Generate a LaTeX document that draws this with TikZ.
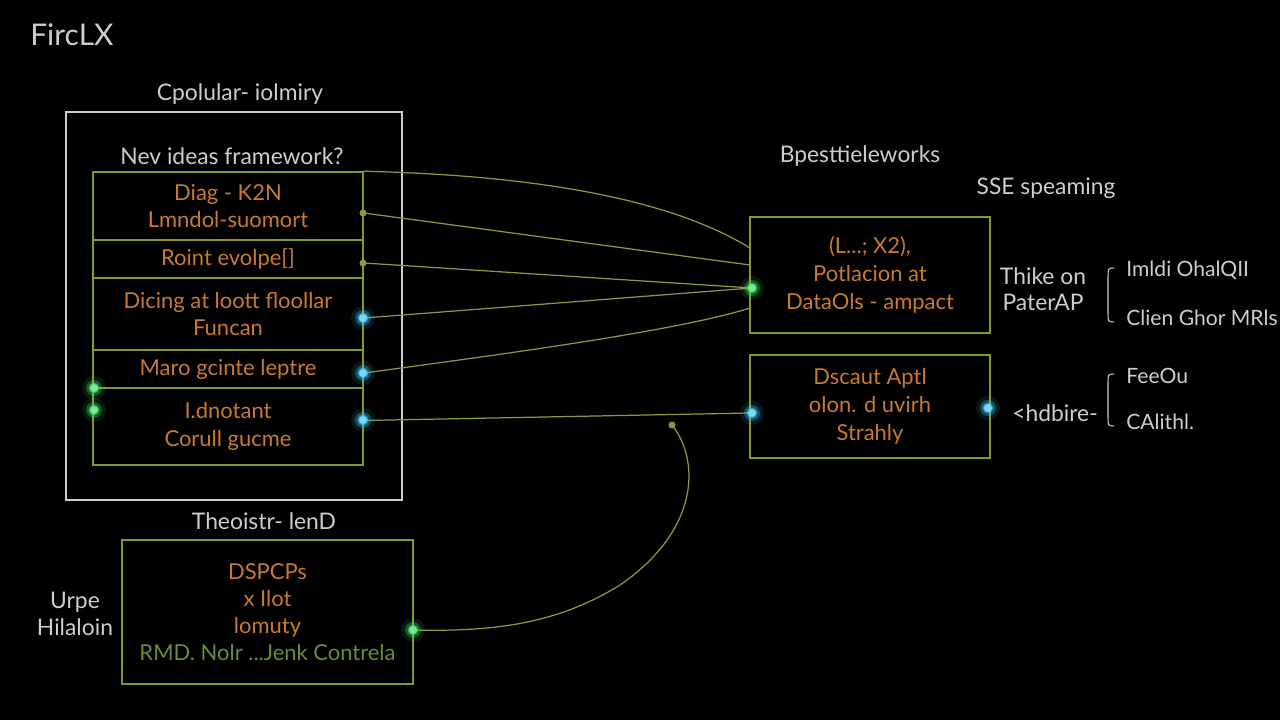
\documentclass[tikz,border=0pt]{standalone}
\usepackage{fontspec}
\setmainfont{Lato}
\usetikzlibrary{positioning,calc}
\definecolor{framegrey}{RGB}{205,205,205}
\definecolor{rowgreen}{RGB}{140,150,40}
\definecolor{wireolive}{RGB}{150,148,60}
\definecolor{labelorange}{RGB}{200,122,48}
\definecolor{dimgreen}{RGB}{105,140,55}
\definecolor{glowcyan}{RGB}{60,200,245}
\definecolor{glowgreen}{RGB}{60,225,100}
\newcommand{\glowdot}[2]{\fill[#1,opacity=0.12] #2 circle (12); \fill[#1,opacity=0.3] #2 circle (8); \fill[#1,opacity=0.6] #2 circle (5.5); \fill[#1!70!white] #2 circle (4);}
\newcommand{\tinydot}[1]{\fill[wireolive] #1 circle (3.5);}
\newcommand{\bracket}[2]{\draw[framegrey,line width=0.6pt] (1114,#1) .. controls (1108,#1) .. (1108,#1+10) -- (1108,#2-10) .. controls (1108,#2) .. (1114,#2);}

\begin{document}
\begin{tikzpicture}[x=0.02cm,y=-0.02cm,
  greylabel/.style={text=framegrey,font=\fontsize{13}{16}\selectfont,inner sep=0},
  rowbox/.style={draw=rowgreen,line width=0.9pt,minimum width=5.4cm,inner sep=0,align=center,
    text=labelorange,font=\fontsize{12.5}{15.5}\selectfont},
  wire/.style={wireolive,line width=0.7pt}]
\fill[black] (0,0) rectangle (1280,720);
\useasboundingbox (0,0) rectangle (1280,720);
% heading
\node[greylabel,anchor=west,font=\fontsize{17}{20}\selectfont] (title) at (30,35) {FircLX};
% left column
\node[greylabel] (outerlbl) at (240,94) {Cpolular- iolmiry};
\node[draw=framegrey,line width=0.7pt,minimum width=6.72cm,minimum height=7.76cm] (outer) at (234,306) {};
\node[greylabel] (stacklbl) at (232,156) {Nev ideas framework?};
\node[rowbox,minimum height=1.36cm] (r1) at (228,206) {Diag - K2N\\Lmndol-suomort};
\node[rowbox,minimum height=0.76cm] (r2) at (228,259) {Roint evolpe[]};
\node[rowbox,minimum height=1.44cm] (r3) at (228,314) {Dicing at loott floollar\\Funcan};
\node[rowbox,minimum height=0.76cm] (r4) at (228,369) {Maro gcinte leptre};
\node[rowbox,minimum height=1.54cm] (r5) at (228,426.5) {I.dnotant\\Corull gucme};
% right column
\node[greylabel] (rightlbl) at (860,156) {Bpesttieleworks};
\node[greylabel] (sselbl) at (1046,188) {SSE speaming};
\node[rowbox,minimum width=4.8cm,minimum height=2.32cm,font=\fontsize{12.5}{16}\selectfont] (b1) at (870,275) {(L...; X2),\\Potlacion at\\DataOls - ampact};
\node[rowbox,minimum width=4.8cm,minimum height=2.06cm,font=\fontsize{12.5}{16}\selectfont] (b2) at (870,406.5) {Dscaut Aptl\\olon. d uvirh\\Strahly};
\node[greylabel,align=center,font=\fontsize{13}{15}\selectfont] (thike) at (1043,289) {Thike on\\PaterAP};
\node[greylabel,anchor=west,font=\fontsize{12}{14}\selectfont] (imldi) at (1126,270) {Imldi OhalQII};
\node[greylabel,anchor=west,font=\fontsize{12}{14}\selectfont] (clien) at (1126,318) {Clien Ghor MRls};
\node[greylabel] (hdbire) at (1055,413) {<hdbire-};
\node[greylabel,anchor=west,font=\fontsize{12}{14}\selectfont] (feeou) at (1126,376) {FeeOu};
\node[greylabel,anchor=west,font=\fontsize{12}{14}\selectfont] (calithl) at (1126,422) {CAlithl.};
\bracket{268}{322}
\bracket{374}{426}
% bottom
\node[greylabel] (botlbl) at (264,521) {Theoistr- lenD};
\node[rowbox,minimum width=5.82cm,minimum height=2.88cm,font=\fontsize{12.5}{15.5}\selectfont] (bot) at (267.5,612) {DSPCPs\\x Ilot\\lomuty\\\textcolor{dimgreen}{RMD. Nolr ...Jenk Contrela}};
\node[greylabel,align=center,font=\fontsize{13}{15}\selectfont] (urpe) at (75,614) {Urpe\\Hilaloin};
% hubs and free end
\coordinate (hub) at (752,288);
\coordinate (loose) at (672,425);
% connectors
\draw[wire] (r1.north east) .. controls (560,176) and (680,205) .. (750,248);
\draw[wire] ($(r1.east)+(0,7)$) -- (750,265);
\draw[wire] ($(r2.east)+(0,4)$) -- (hub);
\draw[wire] (r3.east) ++(0,4) -- (hub);
\draw[wire] (r4.east) ++(0,4) .. controls (520,352) and (680,330) .. (750,308);
\draw[wire] (r5.east) ++(0,-6) -- (b2.west |- 0,413);
\draw[wire] (bot.east) ++(0,18) .. controls (500,632) and (560,622) .. (620,585) .. controls (700,530) and (700,460) .. (loose);
\tinydot{(loose)}
% dots
\tinydot{(363,213)}
\tinydot{(363,263)}
\glowdot{glowcyan}{(363,318)}
\glowdot{glowcyan}{(363,373)}
\glowdot{glowcyan}{(363,420)}
\glowdot{glowgreen}{(94,388)}
\glowdot{glowgreen}{(94,410)}
\glowdot{glowgreen}{(hub)}
\glowdot{glowcyan}{(752,413)}
\glowdot{glowcyan}{(988,408)}
\glowdot{glowgreen}{(413,630)}
\end{tikzpicture}
\end{document}
